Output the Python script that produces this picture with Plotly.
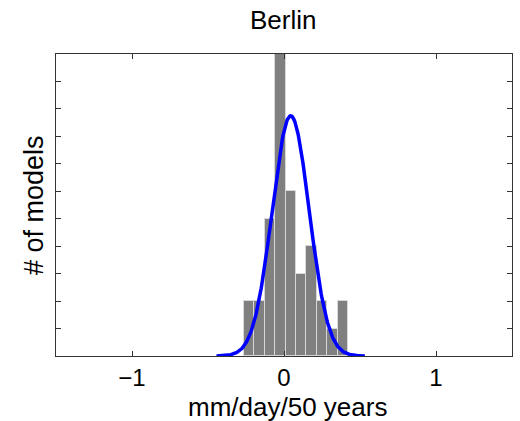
import numpy as np
import plotly.graph_objects as go

# Histogram data (number of models per bin)
bin_centers = [-0.230, -0.161, -0.093, -0.024, 0.045, 0.113, 0.182, 0.250, 0.319, 0.388]
counts = [2, 2, 5, 11, 6, 3, 4, 2, 1, 2]
bin_width = 0.0686

# Fitted normal curve parameters
fit_mean = 0.044
fit_sd = 0.122
fit_peak = 8.75

x_ticks = [-1, 0, 1]
x_tick_labels = ["\u22121", "0", "1"]
y_ticks = list(range(1, 11))

title_text = "Berlin"
x_title = "mm/day/50 years"
y_title = "# of models"

curve_x = np.linspace(fit_mean - 4 * fit_sd, fit_mean + 4 * fit_sd, 300)
curve_y = fit_peak * np.exp(-0.5 * ((curve_x - fit_mean) / fit_sd) ** 2)

font = "Liberation Sans, Arial, Helvetica, sans-serif"

fig = go.Figure()
fig.add_trace(go.Bar(
    x=bin_centers, y=counts, width=[bin_width] * len(counts),
    marker=dict(color="#808080", line=dict(color="#d8d8d8", width=1)),
    showlegend=False,
))
fig.add_trace(go.Scatter(
    x=curve_x, y=curve_y, mode="lines",
    line=dict(color="#0000ff", width=3.5), showlegend=False,
))

fig.update_layout(
    width=520, height=421,
    margin=dict(l=56, r=8, t=54, b=65),
    paper_bgcolor="white", plot_bgcolor="white",
    font=dict(family=font, size=24, color="black"),
    bargap=0,
    annotations=[
        dict(text=title_text, xref="paper", yref="paper", x=0.498, y=1.111,
             xanchor="center", yanchor="middle", showarrow=False,
             font=dict(size=26)),
        dict(text=x_title, xref="paper", yref="paper", x=0.507, y=-0.169,
             xanchor="center", yanchor="middle", showarrow=False,
             font=dict(size=26)),
        dict(text=y_title, xref="paper", yref="paper", x=-0.048, y=0.5,
             xanchor="center", yanchor="middle", showarrow=False, textangle=-90,
             font=dict(size=27)),
    ],
)
fig.update_xaxes(
    range=[-1.5, 1.5], tickvals=x_ticks, ticktext=x_tick_labels,
    ticks="inside", ticklen=5, tickcolor="#333", showline=True, linecolor="#333",
    linewidth=1, mirror="ticks", showgrid=False, zeroline=False,
    tickfont=dict(size=24),
)
fig.update_yaxes(
    range=[0, 11], tickvals=y_ticks, showticklabels=False,
    ticks="inside", ticklen=5, tickcolor="#333", showline=True, linecolor="#333",
    linewidth=1, mirror="ticks", showgrid=False, zeroline=False,
)
fig.write_html("out.html")
